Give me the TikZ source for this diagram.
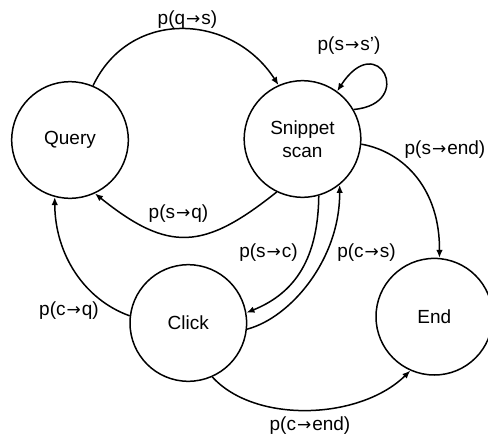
\documentclass[tikz,border=0pt]{standalone}
\usepackage{fontspec}
\setmainfont{Liberation Sans}
\newfontfamily\arfont{DejaVu Sans}
\newcommand{\ra}{\hspace{1pt}{\arfont\fontsize{17}{17}\selectfont →}\hspace{1pt}}
\usetikzlibrary{arrows.meta}
\begin{document}
\begin{tikzpicture}[x=1pt,y=-1pt,
  state/.style={draw,circle,line width=1.5pt,minimum size=116.6pt,inner sep=0pt,font=\fontsize{19}{23}\selectfont,align=center},
  edge/.style={line width=1.5pt,-{Latex[length=8pt,width=6.5pt]}},
  lab/.style={font=\fontsize{19}{23}\selectfont,inner sep=0pt}]
\useasboundingbox (0,0) rectangle (488,439);
\node[state] (q) at (70,140) {Query};
\node[state] (s) at (302.5,139) {Snippet\\scan};
\node[state] (c) at (188.3,323) {Click};
\node[state] (e) at (434.3,316.7) {End};
% edges
\draw[edge] (q.67.6) .. controls (130,8) and (232,13) .. (s.114.9);
\draw[edge] (s.30.7) .. controls (416,104) and (378,28) .. (s.54.8);
\draw[edge] (s.-5.9) .. controls (405,152) and (440,190) .. (e.85.5);
\draw[edge] (s.244.3) .. controls (204,250) and (169,253) .. (q.295);
\draw[edge] (s.286.4) .. controls (318,265) and (290,295) .. (c.10.8);
\draw[edge] (c.-6.8) .. controls (290,318) and (340,260) .. (s.-51.3);
\draw[edge] (c.173.8) .. controls (85,300) and (55,255) .. (q.255.5);
\draw[edge] (c.-66.5) .. controls (255,424) and (360,420) .. (e.246.2);
% labels
\node[lab] (l1) at (187.5,20) {p(q\ra s)};
\node[lab] (l2) at (349,46) {p(s\ra s’)};
\node[lab] (l3) at (445,150) {p(s\ra end)};
\node[lab] (l4) at (178.5,214) {p(s\ra q)};
\node[lab] (l5) at (268.5,253) {p(s\ra c)};
\node[lab] (l6) at (366.5,253) {p(c\ra s)};
\node[lab] (l7) at (69,311) {p(c\ra q)};
\node[lab] (l8) at (310,426) {p(c\ra end)};
\end{tikzpicture}
\end{document}
